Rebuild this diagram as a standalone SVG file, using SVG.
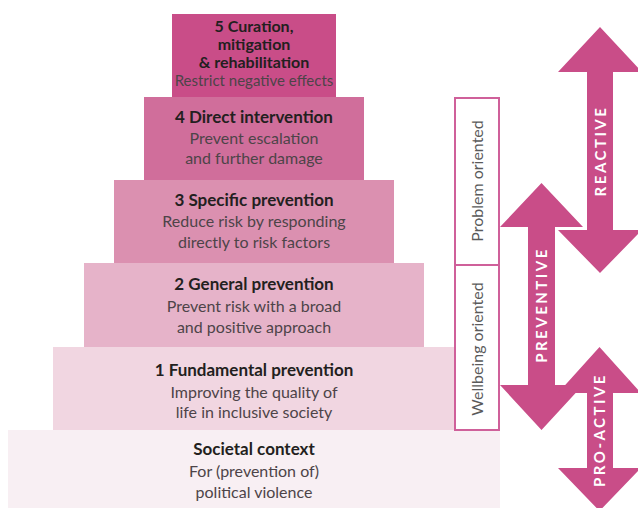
<svg xmlns="http://www.w3.org/2000/svg" width="638" height="508" viewBox="0 0 638 508">
<style>
.t{font-family:Lato,"Liberation Sans",sans-serif;font-size:17px;font-weight:bold;fill:#231f20;text-anchor:middle}
.t5{font-family:Lato,"Liberation Sans",sans-serif;font-size:16px;font-weight:bold;fill:#231f20;text-anchor:middle}
.s{font-family:Lato,"Liberation Sans",sans-serif;font-size:16px;fill:#4d4448;text-anchor:middle}
.s5{font-family:Lato,"Liberation Sans",sans-serif;font-size:15px;fill:#4d4448;text-anchor:middle}
.v{font-family:Lato,"Liberation Sans",sans-serif;font-size:16px;fill:#5a5a5a;text-anchor:middle}
.a{font-family:Lato,"Liberation Sans",sans-serif;font-size:15px;font-weight:bold;fill:#fff;text-anchor:middle;letter-spacing:2.5px}
.arr{fill:#c94d88}
.box{fill:#fff;stroke:#cf609a;stroke-width:2}
</style>
<rect width="638" height="508" fill="#fff"/>
<g id="societal">
<rect x="8" y="430" width="492" height="78" fill="#f8eff3"/>
<text class="t" x="254" y="455">Societal context</text>
<text class="s" x="254" y="477">For (prevention of)</text>
<text class="s" x="254" y="498">political violence</text>
</g>
<g id="level1">
<rect x="53" y="347" width="402" height="83" fill="#f1d6e1"/>
<text class="t" x="254" y="376">1 Fundamental prevention</text>
<text class="s" x="254" y="398">Improving the quality of</text>
<text class="s" x="254" y="418">life in inclusive society</text>
</g>
<g id="level2">
<rect x="84" y="263" width="340" height="84" fill="#e6b3c9"/>
<text class="t" x="254" y="290">2 General prevention</text>
<text class="s" x="254" y="312">Prevent risk with a broad</text>
<text class="s" x="254" y="333">and positive approach</text>
</g>
<g id="level3">
<rect x="114" y="180" width="280" height="83" fill="#db90b0"/>
<text class="t" x="254" y="206">3 Specific prevention</text>
<text class="s" x="254" y="227">Reduce risk by responding</text>
<text class="s" x="254" y="248">directly to risk factors</text>
</g>
<g id="level4">
<rect x="144" y="97" width="220" height="83" fill="#d06e9b"/>
<text class="t" x="254" y="123">4 Direct intervention</text>
<text class="s" x="254" y="144">Prevent escalation</text>
<text class="s" x="254" y="164">and further damage</text>
</g>
<g id="level5">
<rect x="172" y="14" width="164" height="83" fill="#c94d88"/>
<text class="t5" x="254" y="32">5 Curation,</text>
<text class="t5" x="254" y="50">mitigation</text>
<text class="t5" x="254" y="68">&amp; rehabilitation</text>
<text class="s5" x="254" y="86">Restrict negative effects</text>
</g>
<g id="problem-oriented">
<rect class="box" x="455" y="98" width="44" height="167"/>
<text class="v" x="482.5" y="181" transform="rotate(-90 482.5 181)">Problem oriented</text>
</g>
<g id="wellbeing-oriented">
<rect class="box" x="455" y="265" width="44" height="165"/>
<text class="v" x="482.5" y="349" transform="rotate(-90 482.5 349)">Wellbeing oriented</text>
</g>
<g id="connectors">
<g id="reactive">
<polygon class="arr" points="600,27 642,72 613,72 613,230 642,230 600,273 558,230 587,230 587,72 558,72"/>
<text class="a" x="605.5" y="151" transform="rotate(-90 605.5 151)">REACTIVE</text>
</g>
<g id="preventive">
<polygon class="arr" points="541.5,183 583,227 555,227 555,385 583,385 541.5,430 500,385 528,385 528,227 500,227"/>
<text class="a" x="547" y="305" transform="rotate(-90 547 305)">PREVENTIVE</text>
</g>
<g id="pro-active">
<polygon class="arr" points="599.5,347 641,393 613,393 613,468 641,468 599.5,511 558,468 587,468 587,393 558,393"/>
<text class="a" x="605" y="430" transform="rotate(-90 605 430)">PRO-ACTIVE</text>
</g>
</g>
</svg>
